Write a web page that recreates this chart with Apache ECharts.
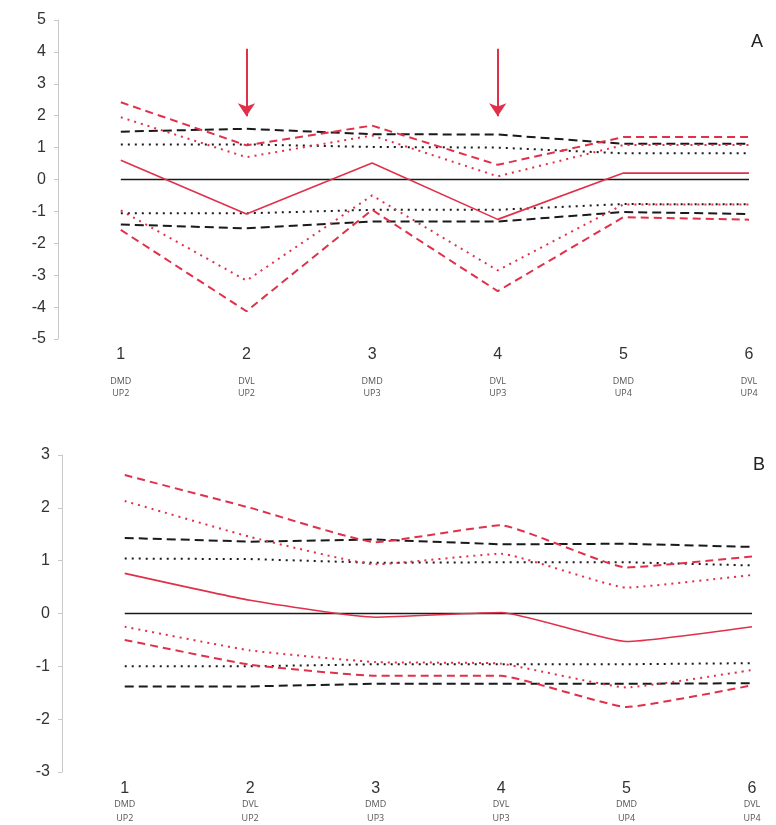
<!DOCTYPE html>
<html><head><meta charset="utf-8">
<script src="https://cdn.jsdelivr.net/npm/echarts@6/dist/echarts.min.js"></script>
<style>html,body{margin:0;padding:0;background:#fff}#c{width:776px;height:825px}</style>
</head><body><div id="c"></div>
<script>
// ---- data ----
const categories = [1, 2, 3, 4, 5, 6];
const subLabelTop = ['DMD', 'DVL', 'DMD', 'DVL', 'DMD', 'DVL'];
const subLabelBottom = ['UP2', 'UP2', 'UP3', 'UP3', 'UP4', 'UP4'];
const yTicksA = [-5, -4, -3, -2, -1, 0, 1, 2, 3, 4, 5];
const yTicksB = [-3, -2, -1, 0, 1, 2, 3];

// Panel A
const aZero        = [0, 0, 0, 0, 0, 0];
const aRedSolid    = [0.6, -1.08, 0.52, -1.25, 0.2, 0.2];
const aRedDashedUp = [2.42, 1.07, 1.69, 0.46, 1.33, 1.33];
const aRedDottedUp = [1.95, 0.7, 1.38, 0.1, 1.08, 1.08];
const aRedDottedLo = [-0.97, -3.17, -0.5, -2.85, -0.78, -0.78];
const aRedDashedLo = [-1.58, -4.13, -0.95, -3.5, -1.18, -1.26];
const aBlkDashedUp = [1.5, 1.59, 1.42, 1.41, 1.12, 1.12];
const aBlkDottedUp = [1.1, 1.1, 1.02, 1.0, 0.82, 0.82];
const aBlkDottedLo = [-1.06, -1.06, -0.95, -0.95, -0.77, -0.78];
const aBlkDashedLo = [-1.41, -1.53, -1.32, -1.32, -1.02, -1.08];
const arrowCats = [2, 4];
const arrowFrom = 4.1, arrowTo = 1.98;

// Panel B
const bZero        = [0, 0, 0, 0, 0, 0];
const bRedSolid    = [0.76, 0.25, -0.07, 0.02, -0.53, -0.25];
const bRedDashedUp = [2.62, 2.0, 1.35, 1.67, 0.87, 1.08];
const bRedDottedUp = [2.13, 1.45, 0.93, 1.13, 0.49, 0.73];
const bRedDottedLo = [-0.25, -0.7, -0.92, -0.95, -1.4, -1.07];
const bRedDashedLo = [-0.5, -0.97, -1.18, -1.18, -1.77, -1.36];
const bBlkDashedUp = [1.43, 1.36, 1.4, 1.31, 1.32, 1.26];
const bBlkDottedUp = [1.04, 1.03, 0.96, 0.97, 0.97, 0.91];
const bBlkDottedLo = [-1.0, -1.0, -0.96, -0.96, -0.96, -0.94];
const bBlkDashedLo = [-1.38, -1.38, -1.33, -1.33, -1.33, -1.32];

// ---- styles ----
const RED = '#e0304a';
const BLK = '#1a1a1a';
const styles = {
  zero:      { color: BLK, width: 1.6, type: 'solid' },
  redSolid:  { color: RED, width: 1.6, type: 'solid' },
  redDashed: { color: RED, width: 2, type: [8, 5] },
  redDotted: { color: RED, width: 2, type: [2, 5] },
  blkDashed: { color: BLK, width: 2, type: [9, 5] },
  blkDotted: { color: BLK, width: 2, type: [2, 5] }
};

function pts(arr) { return arr.map((v, i) => [categories[i], v]); }
function mk(name, arr, style, grid, smooth) {
  return {
    name, type: 'line', xAxisIndex: grid, yAxisIndex: grid,
    data: pts(arr), symbol: 'none', smooth: smooth || false,
    lineStyle: Object.assign({}, style), silent: true, animation: false,
    z: style.color === RED ? 3 : 2
  };
}

function xAxisFor(grid, margin, nLH, gapLH, sLH) {
  return {
    type: 'value', gridIndex: grid, min: 0.5, max: 6,
    axisLine: { show: false }, axisTick: { show: false }, splitLine: { show: false },
    axisLabel: {
      customValues: categories,
      margin: margin,
      formatter: v => {
        const i = categories.indexOf(v);
        if (i < 0) return '';
        return '{n|' + v + '}\n' + (gapLH > 0 ? '{g| }\n' : '') + '{s|' + subLabelTop[i] + '}\n{s|' + subLabelBottom[i] + '}';
      },
      rich: {
        n: { fontSize: 16, color: '#333', fontFamily: 'Liberation Sans, Arial', lineHeight: nLH },
        g: { fontSize: 1, lineHeight: gapLH },
        s: { fontSize: 9, color: '#555', fontFamily: 'Open Sans, Noto Sans', lineHeight: sLH }
      }
    }
  };
}
function yAxisFor(grid, ticks) {
  return {
    type: 'value', gridIndex: grid, min: ticks[0], max: ticks[ticks.length - 1], interval: 1,
    axisLine: { show: true, lineStyle: { color: '#c8c8c8', width: 1 } },
    axisTick: { show: true, length: 4, lineStyle: { color: '#c8c8c8' } },
    splitLine: { show: false },
    axisLabel: { fontSize: 16, color: '#333', margin: 12, fontFamily: 'Liberation Sans, Arial' }
  };
}

const seriesA = [
  mk('zeroA', aZero, styles.zero, 0),
  mk('blkDashedUpA', aBlkDashedUp, styles.blkDashed, 0),
  mk('blkDottedUpA', aBlkDottedUp, styles.blkDotted, 0),
  mk('blkDottedLoA', aBlkDottedLo, styles.blkDotted, 0),
  mk('blkDashedLoA', aBlkDashedLo, styles.blkDashed, 0),
  mk('redDashedUpA', aRedDashedUp, styles.redDashed, 0),
  mk('redDottedUpA', aRedDottedUp, styles.redDotted, 0),
  mk('redDottedLoA', aRedDottedLo, styles.redDotted, 0),
  mk('redDashedLoA', aRedDashedLo, styles.redDashed, 0),
  mk('redSolidA', aRedSolid, styles.redSolid, 0)
];
// arrows
seriesA[0].markLine = {
  silent: true, animation: false,
  symbol: ['none', 'arrow'], symbolSize: 13,
  label: { show: false },
  lineStyle: { color: RED, width: 2, type: 'solid' },
  data: arrowCats.map(c => [{ coord: [c, arrowFrom] }, { coord: [c, arrowTo] }])
};

const seriesB = [
  mk('zeroB', bZero, styles.zero, 1),
  mk('blkDashedUpB', bBlkDashedUp, styles.blkDashed, 1),
  mk('blkDottedUpB', bBlkDottedUp, styles.blkDotted, 1),
  mk('blkDottedLoB', bBlkDottedLo, styles.blkDotted, 1),
  mk('blkDashedLoB', bBlkDashedLo, styles.blkDashed, 1),
  mk('redDashedUpB', bRedDashedUp, styles.redDashed, 1, 0.12),
  mk('redDottedUpB', bRedDottedUp, styles.redDotted, 1, 0.12),
  mk('redDottedLoB', bRedDottedLo, styles.redDotted, 1, 0.12),
  mk('redDashedLoB', bRedDashedLo, styles.redDashed, 1, 0.12),
  mk('redSolidB', bRedSolid, styles.redSolid, 1, 0.15)
];

const chart = echarts.init(document.getElementById('c'), null, { renderer: 'canvas' });
chart.setOption({
  backgroundColor: '#fff',
  animation: false,
  grid: [
    { left: 58, right: 27, top: 20, height: 319 },
    { left: 62, right: 24, top: 455, height: 317 }
  ],
  xAxis: [xAxisFor(0, 5, 22, 9, 12), xAxisFor(1, 8, 18, 0, 13.5)],
  yAxis: [yAxisFor(0, yTicksA), yAxisFor(1, yTicksB)],
  graphic: [
    { type: 'text', left: 751, top: 33, style: { text: 'A', fontSize: 18, fill: '#222', fontFamily: 'Liberation Sans, Arial' } },
    { type: 'text', left: 753, top: 456, style: { text: 'B', fontSize: 18, fill: '#222', fontFamily: 'Liberation Sans, Arial' } }
  ],
  series: seriesA.concat(seriesB)
});
</script></body></html>
